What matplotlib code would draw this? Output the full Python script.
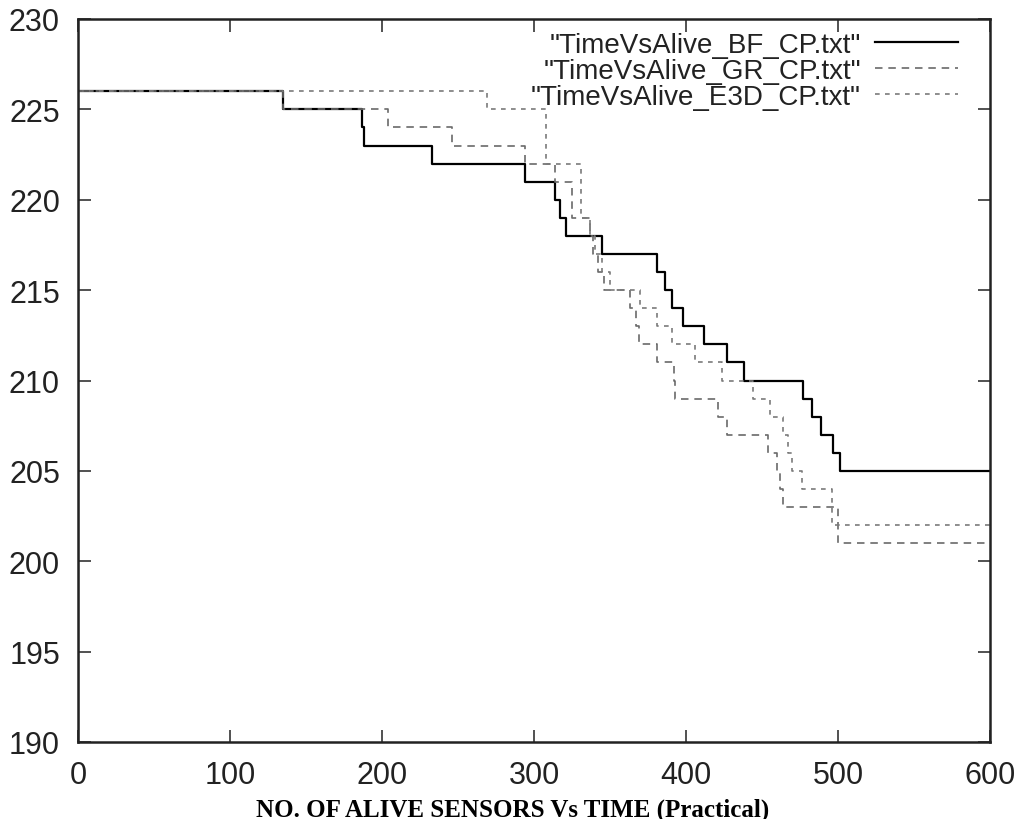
import matplotlib
matplotlib.use('Agg')
import matplotlib.pyplot as plt

# ---- data (time vs number of alive sensors) ----
bf_t = [0, 0, 135, 187, 188, 233, 294, 314, 317, 321, 345, 381, 386, 391, 398, 412, 427, 438, 477, 483, 489, 497, 501, 600]
bf_v = [0, 226, 225, 224, 223, 222, 221, 220, 219, 218, 217, 216, 215, 214, 213, 212, 211, 210, 209, 208, 207, 206, 205, 205]

gr_t = [0, 0, 135, 204, 246, 294, 314, 325, 337, 339, 342, 346, 363, 367, 369, 381, 392, 393, 421, 427, 454, 460, 462, 464, 500, 600]
gr_v = [0, 226, 225, 224, 223, 222, 221, 219, 218, 217, 216, 215, 214, 213, 212, 211, 210, 209, 208, 207, 206, 205, 204, 203, 201, 201]

e3d_t = [0, 0, 269, 308, 331, 337, 340, 345, 350, 370, 381, 391, 406, 424, 444, 455, 464, 467, 470, 476, 496, 600]
e3d_v = [0, 226, 225, 222, 219, 218, 217, 216, 215, 214, 213, 212, 211, 210, 209, 208, 207, 206, 205, 204, 202, 202]

labels = ['"TimeVsAlive_BF_CP.txt"', '"TimeVsAlive_GR_CP.txt"', '"TimeVsAlive_E3D_CP.txt"']
x_ticks = [0, 100, 200, 300, 400, 500, 600]
y_ticks = [190, 195, 200, 205, 210, 215, 220, 225, 230]
title = 'NO. OF ALIVE SENSORS Vs TIME (Practical)'

plt.rcParams['font.family'] = ['Liberation Sans', 'DejaVu Sans']

fig = plt.figure(figsize=(10.25, 8.2), dpi=100)
ax = fig.add_axes([78 / 1025, 1 - 743 / 820, 912 / 1025, 723 / 820])

ax.step(bf_t, bf_v, where='post', color='black', lw=1.6, label=labels[0])
ax.step(gr_t, gr_v, where='post', color='#6a6a6a', lw=1.2,
        linestyle=(0, (4.5, 3.5)), label=labels[1])
ax.step(e3d_t, e3d_v, where='post', color='#7a7a7a', lw=1.2,
        linestyle=(0, (2.8, 3.2)), label=labels[2])

ax.set_xlim(0, 600)
ax.set_ylim(190, 230)
ax.set_xticks(x_ticks)
ax.set_yticks(y_ticks)
ax.tick_params(direction='in', length=9, width=1.2, labelsize=22,
               top=True, right=True, pad=13, colors='#333333',
               labelcolor='#222222')
for s in ax.spines.values():
    s.set_linewidth(1.8)
    s.set_color('#222222')

leg = ax.legend(loc='upper right', bbox_to_anchor=(0.965, 0.982),
                frameon=False, markerfirst=False, fontsize=20,
                handlelength=3.0, handletextpad=0.5, labelspacing=0.0,
                borderpad=0, borderaxespad=0)
for t in leg.get_texts():
    t.set_color('#222222')

fig.text(0.5, 1 - 810 / 820, title, ha='center', va='center',
         fontsize=18, fontweight='bold', family='Liberation Serif')

fig.savefig('out.png', dpi=100)
